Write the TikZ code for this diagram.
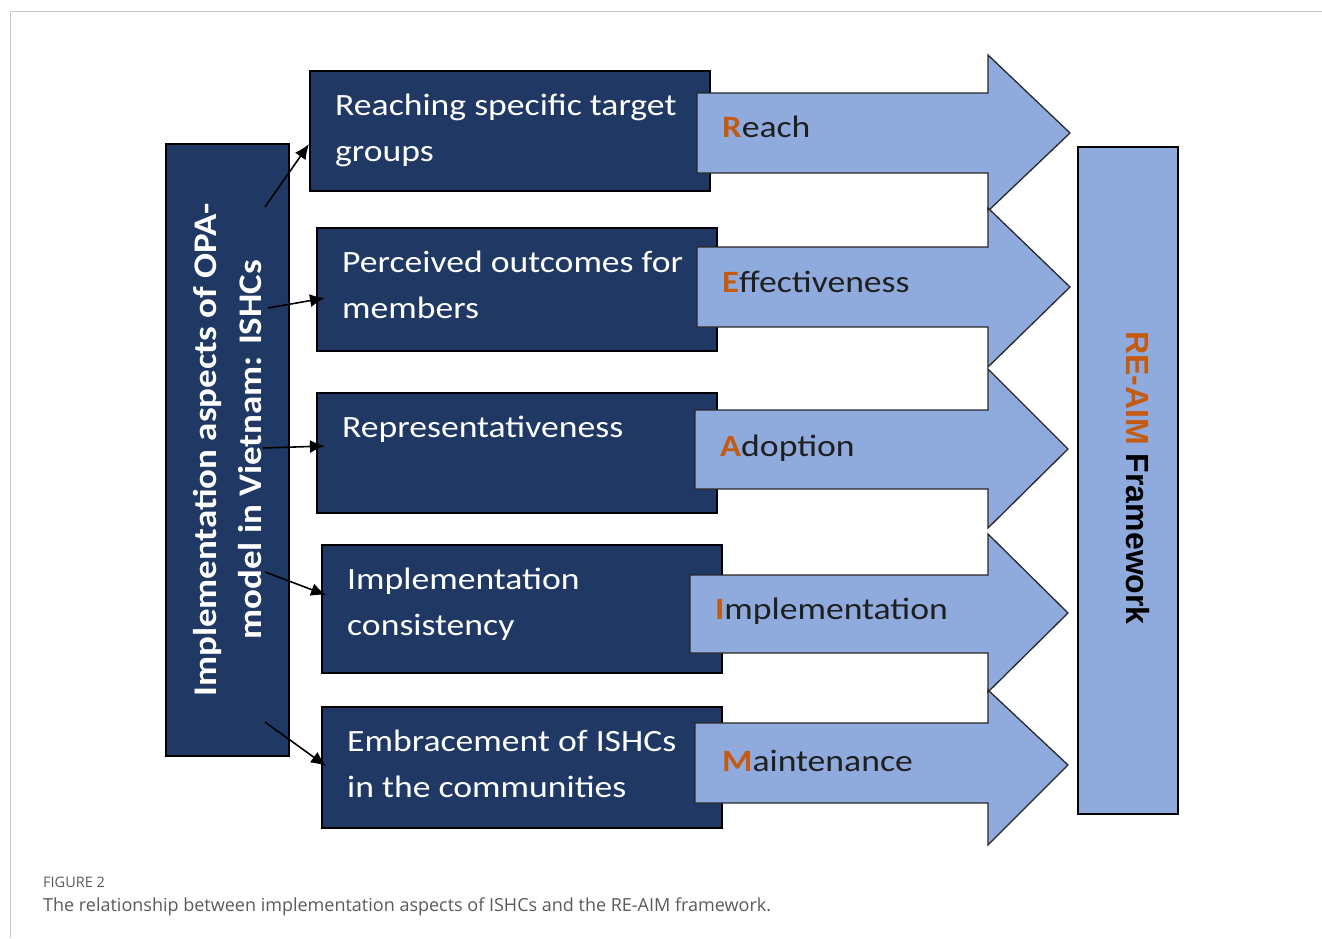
\documentclass[tikz,border=0pt]{standalone}
\usepackage{fontspec}
\setmainfont{Carlito}
\newfontfamily\wide[FakeStretch=1.15]{Carlito}
\newfontfamily\widebold[FakeStretch=1.12]{Carlito Bold}
\newfontfamily\arialfont{Liberation Sans}
\newfontfamily\capfont{Open Sans}
\usetikzlibrary{arrows.meta,calc}
\definecolor{navy}{RGB}{31,56,100}
\definecolor{lblue}{RGB}{143,170,220}
\definecolor{orng}{RGB}{197,90,17}
\definecolor{arrowline}{RGB}{40,40,40}
\definecolor{frame}{RGB}{200,200,200}
\definecolor{capgray}{RGB}{90,90,90}
\begin{document}
\begin{tikzpicture}[x=1pt,y=-1pt,
  darkbox/.style={draw=black,line width=1.6pt,fill=navy,inner sep=0pt},
  boxtext/.style={anchor=north west,inner sep=0pt,text=white,align=left,
    font=\wide\fontsize{31}{46}\selectfont},
  bigarrow/.style={draw=arrowline,line width=1.3pt,fill=lblue,line join=miter},
  arrowtext/.style={anchor=base west,inner sep=0pt,text=black!88,
    font=\wide\fontsize{31}{37}\selectfont},
  conn/.style={draw=black,line width=1.6pt,-{Latex[length=15pt,width=13pt]}}]
\useasboundingbox (0,0) rectangle (1322,938);
% frame
\draw[frame,line width=1pt] (10,938) -- (10,11) -- (1322,11);

% dark boxes
\path[darkbox] (310,71) rectangle (710,191) node[pos=0.5,inner sep=0pt] (b1) {};
\path[darkbox] (317,228) rectangle (717,351) node[pos=0.5,inner sep=0pt] (b2) {};
\path[darkbox] (317,393) rectangle (717,513) node[pos=0.5,inner sep=0pt] (b3) {};
\path[darkbox] (322,545) rectangle (722,673) node[pos=0.5,inner sep=0pt] (b4) {};
\path[darkbox] (322,707) rectangle (722,828) node[pos=0.5,inner sep=0pt] (b5) {};

\node[boxtext] (t1) at (335,85) {\rule{0pt}{30pt}Reaching specific target\\groups};
\node[boxtext] (t2) at (342,242) {\rule{0pt}{30pt}Perceived outcomes for\\members};
\node[boxtext] (t3) at (342,407) {\rule{0pt}{30pt}Representativeness};
\node[boxtext] (t4) at (347,559) {\rule{0pt}{30pt}Implementation\\consistency};
\node[boxtext] (t5) at (347,721) {\rule{0pt}{30pt}Embracement of ISHCs\\in the communities};

% big arrows
\path[bigarrow] (697,93) -- (988,93) -- (988,55) -- (1070,133) -- (988,211) -- (988,173) -- (697,173) -- cycle;
\path[bigarrow] (697,247) -- (988,247) -- (988,208) -- (1070,287) -- (988,367) -- (988,327) -- (697,327) -- cycle;
\path[bigarrow] (695,410) -- (988,410) -- (988,369) -- (1068,449) -- (988,528) -- (988,489) -- (695,489) -- cycle;
\path[bigarrow] (690,575) -- (988,575) -- (988,534) -- (1068,613) -- (988,692) -- (988,653) -- (690,653) -- cycle;
\path[bigarrow] (695,723) -- (988,723) -- (988,690) -- (1068,765) -- (988,845) -- (988,803) -- (695,803) -- cycle;

\node[arrowtext] (r) at (722,137) {\textcolor{orng}{\widebold R}each};
\node[arrowtext] (e) at (722,292) {\textcolor{orng}{\widebold E}ffectiveness};
\node[arrowtext] (a) at (720,456) {\textcolor{orng}{\widebold A}doption};
\node[arrowtext] (i) at (715,619) {\textcolor{orng}{\widebold I}mplementation};
\node[arrowtext] (m) at (722,771) {\textcolor{orng}{\widebold M}aintenance};

% left box
\node[darkbox,minimum width=123pt,minimum height=612pt,anchor=north west] (left) at (165,143) {};
\node[rotate=90,text=white,align=center,inner sep=0pt,
  font=\widebold\fontsize{33}{45}\selectfont] (lt) at (left.center) {Implementation aspects of OPA-\\model in Vietnam: ISHCs};

% right box
\node[draw=black,line width=1.6pt,fill=lblue,minimum width=100pt,minimum height=667pt,anchor=north west,inner sep=0pt] (right) at (1077,146) {};
\node[rotate=-90,inner sep=0pt,font=\arialfont\bfseries\fontsize{32}{36}\selectfont] (rt) at (1138,478) {\textcolor{orng}{RE-AIM} Framework};

% connectors
\coordinate (s1) at (265,207); \coordinate (e1) at (309,144);
\coordinate (s2) at (268,308); \coordinate (e2) at (325,298);
\coordinate (s3) at (263,448); \coordinate (e3) at (325,446);
\coordinate (s4) at (265,572); \coordinate (e4) at (326,595);
\coordinate (s5) at (265,722); \coordinate (e5) at (326,766);
\draw[conn] (s1) -- (e1);
\draw[conn] (s2) -- (e2);
\draw[conn] (s3) -- (e3);
\draw[conn] (s4) -- (e4);
\draw[conn] (s5) -- (e5);

% caption
\node[anchor=base west,inner sep=0pt,text=capgray,font=\capfont\fontsize{14.5}{16}\selectfont] (fig) at (43,887) {FIGURE 2};
\node[anchor=base west,inner sep=0pt,text=capgray,font=\capfont\fontsize{18}{21}\selectfont] (cap) at (43,911) {The relationship between implementation aspects of ISHCs and the RE-AIM framework.};
\end{tikzpicture}
\end{document}
